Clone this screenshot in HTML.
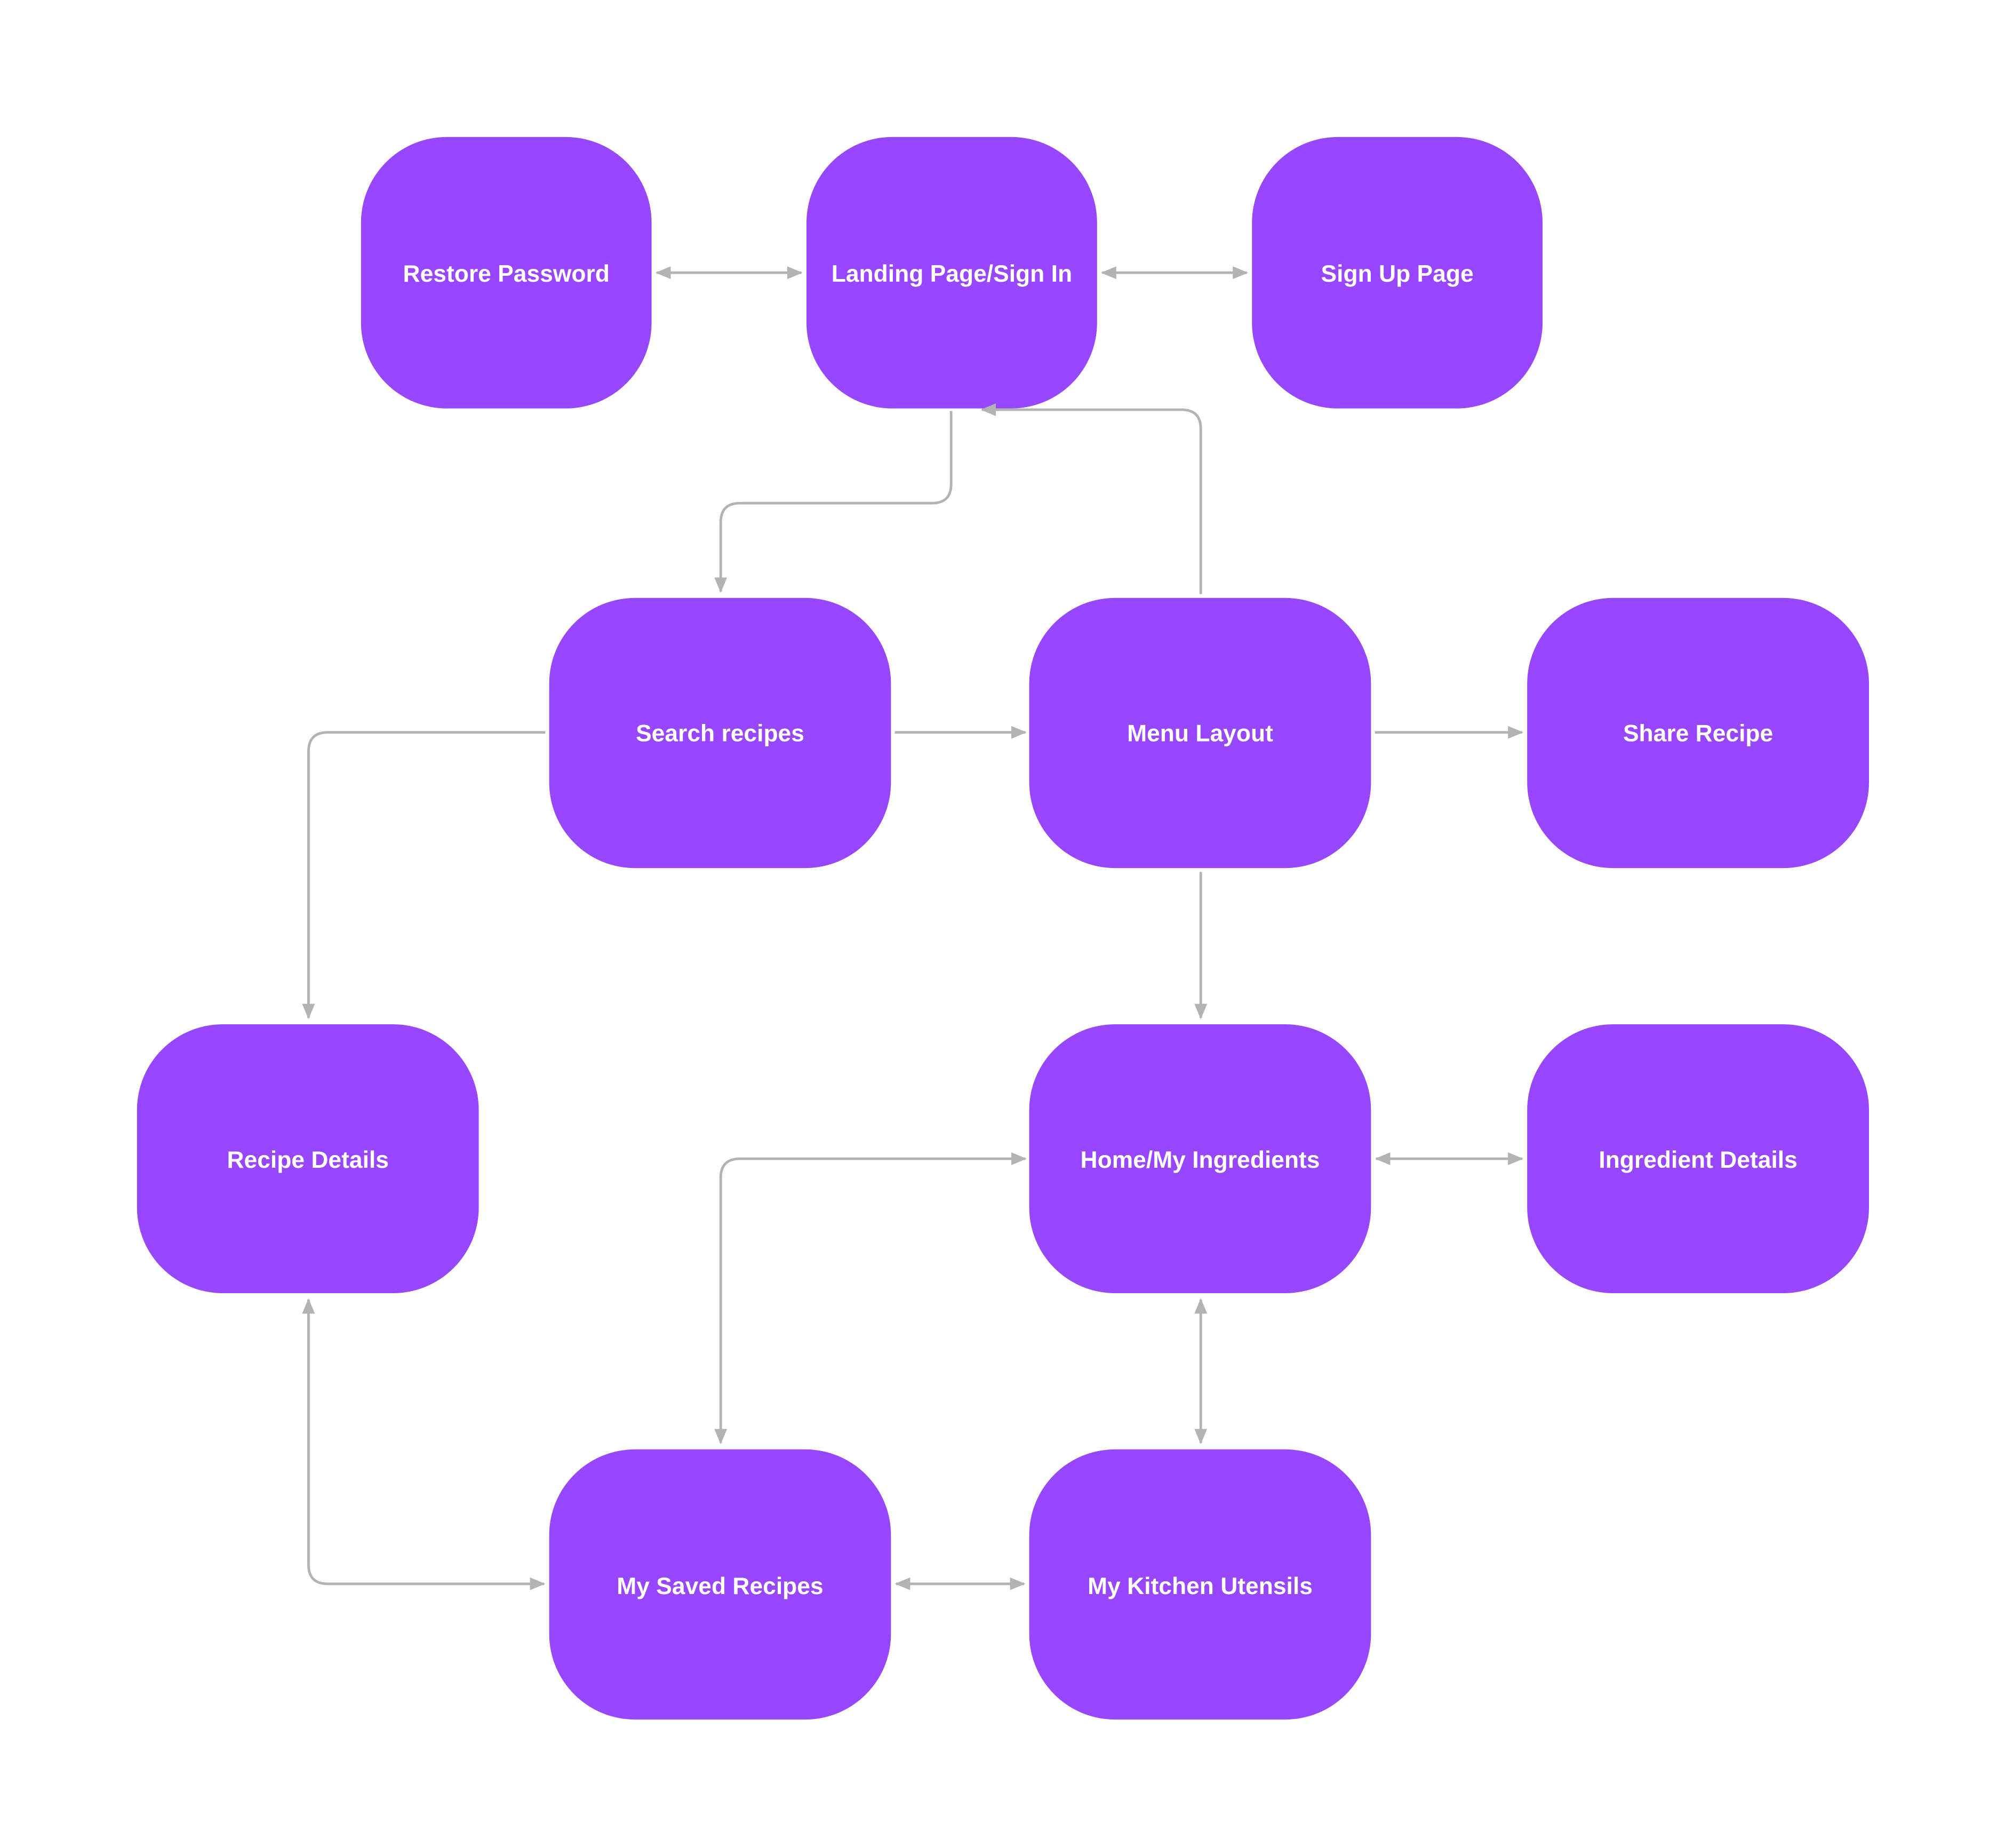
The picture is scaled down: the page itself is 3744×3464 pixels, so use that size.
<!DOCTYPE html>
<html><head><meta charset="utf-8"><style>
html,body{margin:0;padding:0;background:#fff;}
body{width:3744px;height:3464px;position:relative;overflow:hidden;}
svg{position:absolute;left:0;top:0;}
</style></head><body>
<svg width="3744" height="3464" viewBox="0 0 1560 1443.33" xmlns="http://www.w3.org/2000/svg">
<defs>
<marker id="a" viewBox="0 0 12 10" refX="11" refY="5" markerWidth="12" markerHeight="10" markerUnits="userSpaceOnUse" orient="auto-start-reverse">
<path d="M0,0 L12,5 L0,10 z" fill="#b3b3b3"/></marker>
</defs>
<g fill="#9747ff">
<rect x="282" y="107" width="227" height="212" rx="67"/>
<rect x="630" y="107" width="227" height="212" rx="67"/>
<rect x="978" y="107" width="227" height="212" rx="67"/>
<rect x="429" y="467" width="267" height="211" rx="67"/>
<rect x="804" y="467" width="267" height="211" rx="67"/>
<rect x="1193" y="467" width="267" height="211" rx="67"/>
<rect x="107" y="800" width="267" height="210" rx="67"/>
<rect x="804" y="800" width="267" height="210" rx="67"/>
<rect x="1193" y="800" width="267" height="210" rx="67"/>
<rect x="429" y="1132" width="267" height="211" rx="67"/>
<rect x="804" y="1132" width="267" height="211" rx="67"/>
</g>
<g fill="#fff" font-family="Liberation Sans, sans-serif" font-weight="bold" font-size="18.5" text-anchor="middle">
<text x="395.5" y="220">Restore Password</text>
<text x="743.5" y="220">Landing Page/Sign In</text>
<text x="1091.5" y="220">Sign Up Page</text>
<text x="562.5" y="579">Search recipes</text>
<text x="937.5" y="579">Menu Layout</text>
<text x="1326.5" y="579">Share Recipe</text>
<text x="240.5" y="912">Recipe Details</text>
<text x="937.5" y="912">Home/My Ingredients</text>
<text x="1326.5" y="912">Ingredient Details</text>
<text x="562.5" y="1245">My Saved Recipes</text>
<text x="937.5" y="1245">My Kitchen Utensils</text>
</g>
<g fill="none" stroke="#b3b3b3" stroke-width="2">
<path d="M513,213 H626" marker-start="url(#a)" marker-end="url(#a)"/>
<path d="M861,213 H974" marker-start="url(#a)" marker-end="url(#a)"/>
<path d="M743,321 V378 Q743,393 728,393 H578 Q563,393 563,408 V462" marker-end="url(#a)"/>
<path d="M938,464 V335 Q938,320 923,320 H767" marker-end="url(#a)"/>
<path d="M699,572 H801" marker-end="url(#a)"/>
<path d="M1074,572 H1189" marker-end="url(#a)"/>
<path d="M426,572 H256 Q241,572 241,587 V795" marker-end="url(#a)"/>
<path d="M938,681 V795" marker-end="url(#a)"/>
<path d="M1075,905 H1189" marker-start="url(#a)" marker-end="url(#a)"/>
<path d="M801,905 H578 Q563,905 563,920 V1127" marker-start="url(#a)" marker-end="url(#a)"/>
<path d="M938,1015 V1127" marker-start="url(#a)" marker-end="url(#a)"/>
<path d="M241,1015 V1222 Q241,1237 256,1237 H425" marker-start="url(#a)" marker-end="url(#a)"/>
<path d="M700,1237 H800" marker-start="url(#a)" marker-end="url(#a)"/>
</g>
</svg>
</body></html>
